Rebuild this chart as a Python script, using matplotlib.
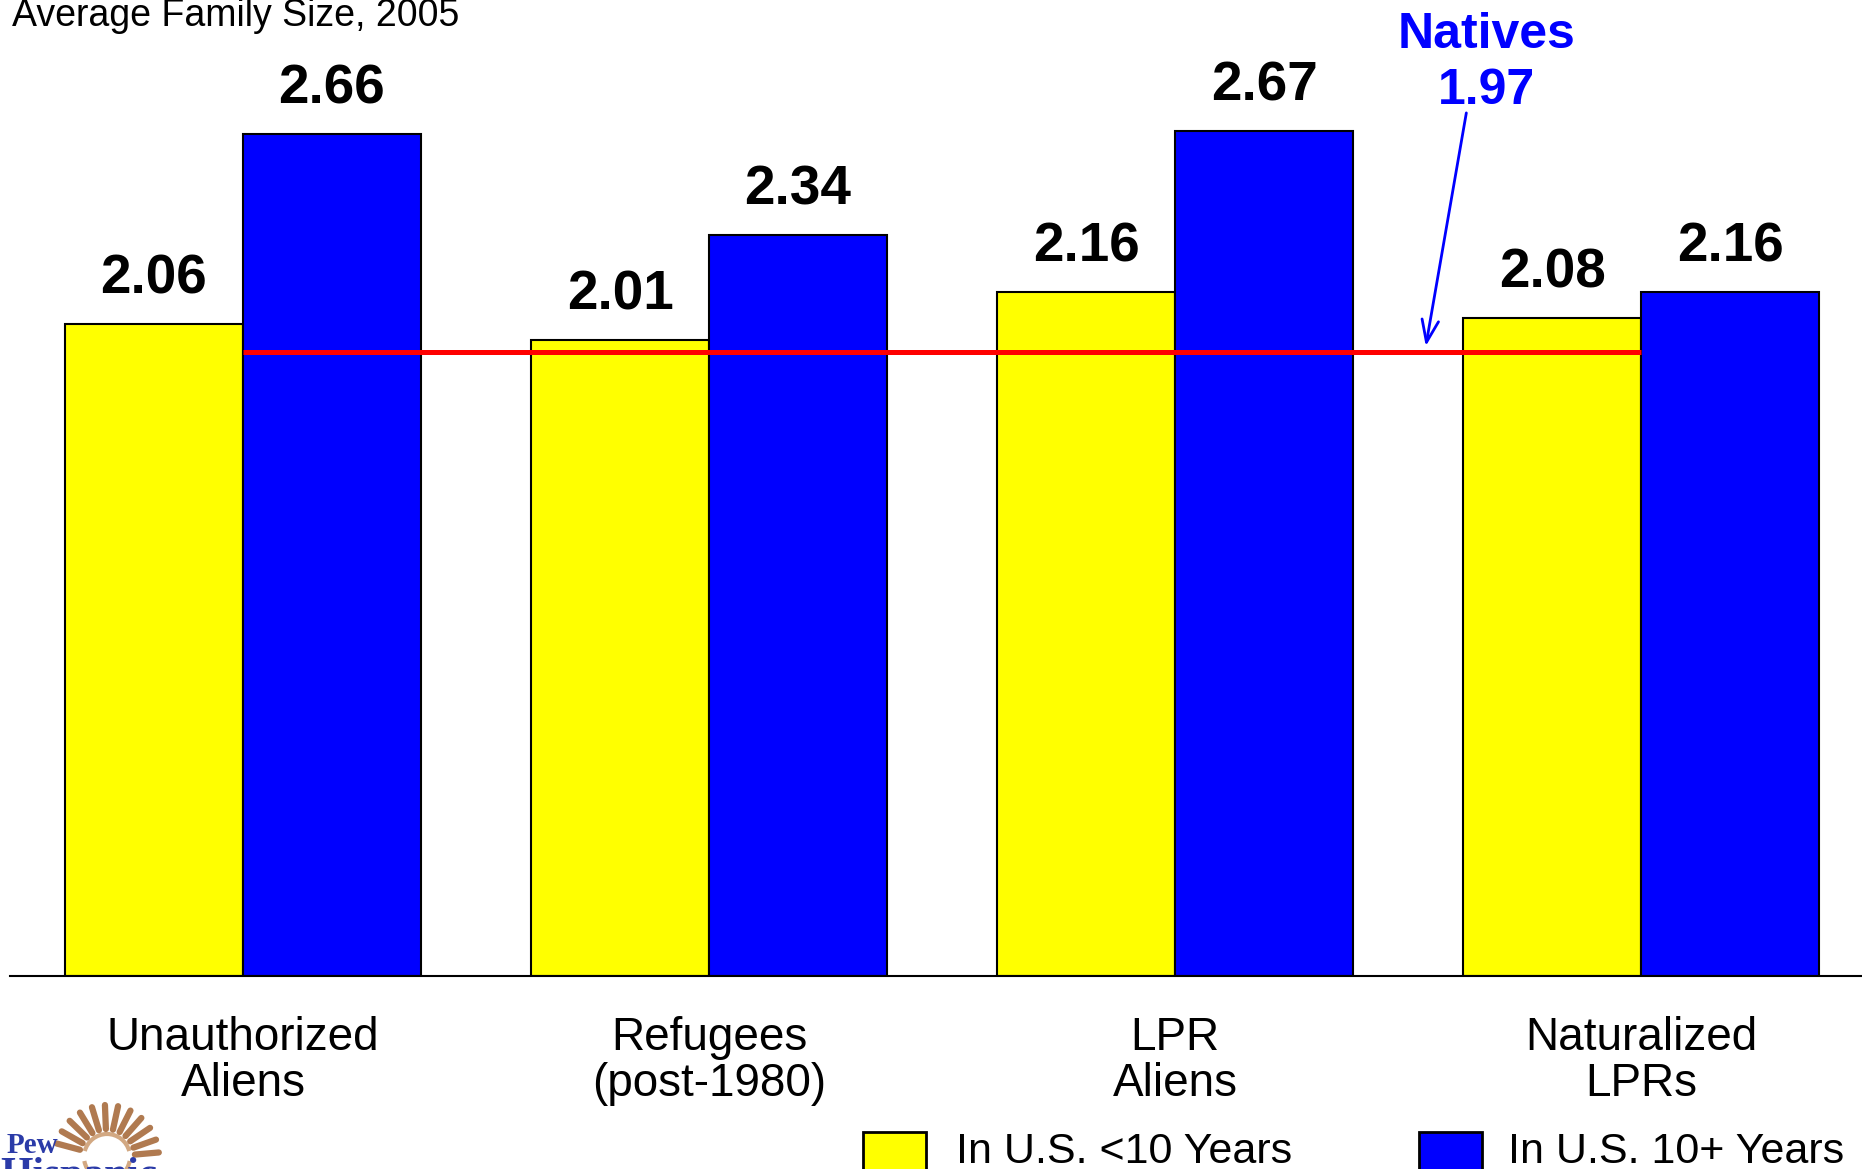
import numpy as np
import matplotlib
matplotlib.use("Agg")
import matplotlib.pyplot as plt
from matplotlib.patches import Rectangle, Arc

plt.rcParams['font.family'] = ['Liberation Sans', 'DejaVu Sans']

# data
categories = ["Unauthorized\nAliens", "Refugees\n(post-1980)", "LPR\nAliens", "Naturalized\nLPRs"]
under10 = [2.06, 2.01, 2.16, 2.08]
over10 = [2.66, 2.34, 2.67, 2.16]
natives = 1.97
series_names = ["In U.S. <10 Years", "In U.S. 10+ Years"]
title = "Average Family Size, 2005"

YELLOW = "#FFFF00"
BLUE = "#0000FF"

W, H = 1862, 1169
fig = plt.figure(figsize=(W / 100, H / 100), dpi=100)
ax = fig.add_axes([9.5 / W, 1 - 976 / H, 1 - 9.5 / W, 949.5 / H])
ax.set_xlim(-0.501, 3.474)
ax.set_ylim(0, 3)
ax.patch.set_visible(False)

x = np.arange(len(categories))
bw = 0.382
b1 = ax.bar(x - bw / 2, under10, bw, color=YELLOW, edgecolor="black", linewidth=1.5, zorder=2)
b2 = ax.bar(x + bw / 2, over10, bw, color=BLUE, edgecolor="black", linewidth=1.5, zorder=2)

for bars, vals in ((b1, under10), (b2, over10)):
    for r, v in zip(bars, vals):
        ax.annotate(f"{v:.2f}", (r.get_x() + r.get_width() / 2, v), xytext=(0, 22),
                    textcoords="offset points", ha="center", va="baseline",
                    fontsize=39.5, fontweight="bold", color="black")

# natives line
ax.hlines(natives, x[0], x[-1], color="#FF0000", linewidth=3.6, zorder=3)
ax.annotate("", xy=(2.538, natives + 0.02), xytext=(2.625, 2.727),
            arrowprops=dict(arrowstyle="->,head_length=0.8,head_width=0.3",
                            color=BLUE, lw=2, mutation_scale=20, shrinkA=0, shrinkB=0))
ax.text(2.668, 2.886, f"Natives\n{natives:.2f}", ha="center", va="center", fontsize=36,
        fontweight="bold", color=BLUE, linespacing=1.28, clip_on=False)

# axes styling
for s in ("top", "right", "left"):
    ax.spines[s].set_visible(False)
ax.spines["bottom"].set_linewidth(1.5)
ax.set_xticks([])
ax.set_yticks([])

for xi, lab in zip(x, categories):
    ax.text(xi, -0.042, lab, transform=ax.get_xaxis_transform(), ha="center", va="top",
            fontsize=33, linespacing=1.07)

fig.text(12 / W, 1 - 26 / H, title, fontsize=27, ha="left", va="baseline")

# overlay in pixel coordinates for legend and logo
ov = fig.add_axes([0, 0, 1, 1])
ov.set_xlim(0, W)
ov.set_ylim(H, 0)
ov.axis("off")

for x0, tx, col, name in ((863, 956, YELLOW, series_names[0]), (1419, 1508, BLUE, series_names[1])):
    ov.add_patch(Rectangle((x0, 1132), 63, 45, facecolor=col, edgecolor="black", linewidth=2, clip_on=False))
    ov.text(tx, 1163, name, fontsize=31, ha="left", va="baseline")

# logo
cx, cy = 107, 1157
for a in np.linspace(5, 165, 12):
    t = np.radians(a)
    ov.plot([cx + 28 * np.cos(t), cx + 52 * np.cos(t)], [cy - 28 * np.sin(t), cy - 52 * np.sin(t)],
            color="#B07A50", lw=4.5, solid_capstyle="round")
ov.add_patch(Arc((cx, cy), 46, 46, theta1=195, theta2=345, color="#D2A882", lw=3))
ov.add_patch(Arc((cx, cy), 46, 46, theta1=10, theta2=170, color="#D2A882", lw=3))
ov.text(7, 1153, "Pew", fontsize=21, fontweight="bold", family="Liberation Serif",
        color="#2B3BA8", ha="left", va="baseline")
ov.text(0, 1186, "Hispanic", fontsize=30, fontweight="bold", family="Liberation Serif",
        color="#2B3BA8", ha="left", va="baseline")

fig.savefig("out.png", dpi=100)
